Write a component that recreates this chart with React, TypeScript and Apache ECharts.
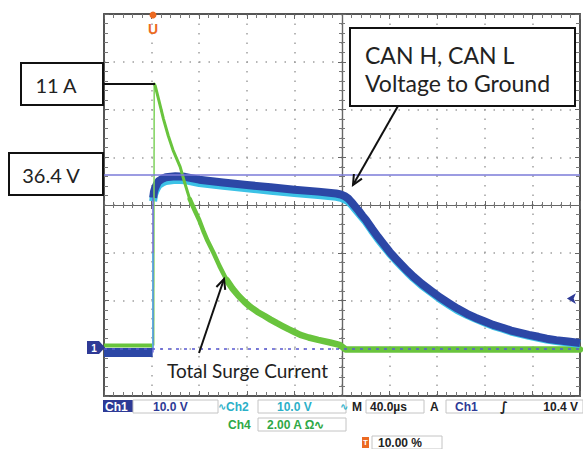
import React, { useEffect, useRef } from "react";
import * as echarts from "echarts";

// Oscilloscope capture: 40 µs/div, Ch1/Ch2 10 V/div, Ch4 2 A/div, trigger at 10 %
const timeMin = -40;
const timeMax = 360;
const timeStep = 40;
const voltMin = -10;
const voltMax = 70;
const voltStep = 10;
const ampMin = -2;
const ampMax = 14;
const ampStep = 2;

// Ch1 (CAN H) volts vs µs
const ch1Pre = [[-40, -0.9], [0.9, -0.9]];
const ch1Rise = [[1.1, -0.9], [1.2, 31.5]];
const ch1Main = [
  [1.3, 31.5], [2, 32.8], [3, 33.6], [4.5, 34.4], [6, 35.0], [9, 35.5], [12, 35.8], [20, 36.0],
  [28, 35.9], [40, 35.3], [60, 34.7], [80, 34.2], [100, 33.7], [120, 33.2], [140, 32.8],
  [155, 32.4], [159, 32.2], [162, 31.9], [165, 31.4], [168, 30.6], [171, 29.7], [174, 28.8],
  [177, 27.8], [180, 26.9], [185, 25.1], [190, 23.4], [195, 21.8], [200, 20.2], [205, 18.8],
  [210, 17.5], [215, 16.2], [220, 15.0], [227, 13.5], [235, 12.0], [242, 10.7], [250, 9.4],
  [257, 8.3], [265, 7.2], [272, 6.4], [280, 5.6], [287, 4.9], [295, 4.3], [302, 3.7],
  [310, 3.2], [317, 2.8], [325, 2.4], [332, 2.0], [340, 1.7], [350, 1.4], [360, 1.1],
];
// Ch2 (CAN L) volts vs µs
const ch2Rise = [[1.0, 0], [1.0, 20]];
const ch2Main = [
  [1.3, 30.8], [2, 32.1], [3, 32.8], [4.5, 33.6], [6, 34.2], [9, 34.7], [12, 35.0], [20, 35.3],
  [28, 35.2], [40, 34.6], [60, 34.0], [80, 33.5], [100, 33.0], [120, 32.5], [140, 32.1],
  [155, 31.7], [159, 31.5], [162, 31.2], [165, 30.8], [168, 30.1], [171, 29.2], [174, 28.3],
  [177, 27.4], [180, 26.5], [185, 24.7], [190, 23.0], [195, 21.4], [200, 19.9], [205, 18.5],
  [210, 17.2], [215, 15.9], [220, 14.7], [227, 13.2], [235, 11.7], [242, 10.4], [250, 9.1],
  [257, 8.0], [265, 7.0], [272, 6.2], [280, 5.4], [287, 4.7], [295, 4.1], [302, 3.5],
  [310, 3.0], [317, 2.6], [325, 2.2], [332, 1.8], [340, 1.5], [350, 1.2], [360, 0.9],
];
// Ch4 (total surge current) amps vs µs
const ch4Pre = [[-40, 0.12], [0.9, 0.12]];
const ch4Rise = [[1.8, 0.12], [2.2, 11.07]];
const ch4Peak = [[2.2, 11.07], [3, 11.0], [6, 10.4], [10, 9.6], [14, 8.9], [18, 8.3], [24, 7.6], [28, 6.9], [32, 6.25]];
const ch4Mid = [[32, 6.25], [36, 5.8], [40, 5.37], [44, 4.85], [47, 4.5], [52, 4.0], [57, 3.45], [63, 2.86]];
const ch4Tail = [
  [63, 2.86], [68, 2.5], [73, 2.2], [78, 1.95], [83, 1.73], [89, 1.52], [95, 1.35], [100, 1.2],
  [105, 1.06], [110, 0.93], [115, 0.8], [120, 0.68], [125, 0.56], [132, 0.45], [140, 0.35],
  [150, 0.24], [158, 0.14], [163, -0.05], [200, -0.05], [260, -0.05], [360, -0.05],
];
const peakCurrentLabel = "11 A";
const peakVoltageLabel = "36.4 V";
const peakVoltage = 36.4;
const triggerLevel = 10.4;
const triggerMarkTime = 349;

const BLUE = "#2c47a6";
const CYAN = "#3cc2e6";
const GREEN = "#69c43d";
const NAVY = "#2e3a96";
const RISE = "#6868d8";

const border = { color: "#555", width: 2 };
const dots = { color: "#a0a0a0", width: 1.5, type: [1.5, 8] as any };

function borderAxis(extra: any) {
  return {
    type: "value",
    axisLine: { show: true, onZero: false, lineStyle: border },
    axisTick: { show: true, inside: true, length: 5, lineStyle: { color: "#666", width: 1 } },
    minorTick: { show: true, splitNumber: 5, length: 4, lineStyle: { color: "#777", width: 1 } },
    axisLabel: { show: false },
    splitLine: { show: false },
    ...extra,
  };
}
function centerAxis(extra: any, inside: boolean) {
  return {
    type: "value",
    interval: 1,
    axisLine: { show: true, onZero: true, onZeroAxisIndex: 2, lineStyle: { color: "#666", width: 1.2 } },
    axisTick: { show: true, inside, length: 4, lineStyle: { color: "#666", width: 1 } },
    minorTick: { show: true, splitNumber: 5, length: 3, lineStyle: { color: "#777", width: 1 } },
    axisLabel: { show: false },
    splitLine: { show: false },
    ...extra,
  };
}

function line(data: any, color: string, width: number, yAxisIndex: number, extra: any = {}, cap = "butt") {
  return {
    type: "line",
    data,
    xAxisIndex: 0,
    yAxisIndex,
    symbol: "none",
    showSymbol: false,
    silent: true,
    smooth: false,
    clip: true,
    lineStyle: { color, width, cap, join: "round" },
    ...extra,
  };
}

function arrowHead(tip: number[], from: number[]) {
  const dx = tip[0] - from[0];
  const dy = tip[1] - from[1];
  const len = Math.hypot(dx, dy);
  const ux = dx / len, uy = dy / len;
  const a = (25 * Math.PI) / 180, L = 11;
  const c = Math.cos(a), s = Math.sin(a);
  const r1 = [ux * c - uy * s, ux * s + uy * c];
  const r2 = [ux * c + uy * s, -ux * s + uy * c];
  return [
    [tip[0] - L * r1[0], tip[1] - L * r1[1]],
    tip,
    [tip[0] - L * r2[0], tip[1] - L * r2[1]],
  ];
}

const annFont = "Lato";
const stFont = "bold 12px 'Liberation Sans'";

function stText(x: number, y: number, text: string, fill: string, align = "left", font = stFont) {
  return { type: "text", x, y, z: 100, style: { text, fill, font, align, verticalAlign: "middle" } };
}
function stBox(x: number, y: number, w: number, h: number) {
  return { type: "rect", z: 99, shape: { x, y, width: w, height: h }, style: { fill: "#fff", stroke: "#c4c4c4", lineWidth: 1 } };
}

const canArrowFrom = [398, 106];
const canArrowTip = [353, 185];
const surgeArrowFrom = [199, 353];
const surgeArrowTip = [224, 279];

const graphics: any[] = [
  // annotation boxes
  { type: "rect", z: 100, shape: { x: 21, y: 63, width: 82, height: 42 }, style: { fill: "#fff", stroke: "#111", lineWidth: 2 } },
  { type: "text", z: 101, x: 56, y: 85, style: { text: peakCurrentLabel, fill: "#222", font: `20px ${annFont}`, align: "center", verticalAlign: "middle" } },
  { type: "line", z: 100, shape: { x1: 103, y1: 84, x2: 155, y2: 84 }, style: { stroke: "#111", lineWidth: 2 } },
  { type: "rect", z: 100, shape: { x: 9, y: 153, width: 94, height: 42 }, style: { fill: "#fff", stroke: "#111", lineWidth: 2 } },
  { type: "text", z: 101, x: 51, y: 175, style: { text: peakVoltageLabel, fill: "#222", font: `20px ${annFont}`, align: "center", verticalAlign: "middle" } },
  { type: "rect", z: 100, shape: { x: 350, y: 28, width: 225, height: 78 }, style: { fill: "#fff", stroke: "#111", lineWidth: 2 } },
  { type: "text", z: 101, x: 365, y: 55, style: { text: "CAN H, CAN L", fill: "#222", font: `23px ${annFont}`, align: "left", verticalAlign: "middle" } },
  { type: "text", z: 101, x: 365, y: 83, style: { text: "Voltage to Ground", fill: "#222", font: `23px ${annFont}`, align: "left", verticalAlign: "middle" } },
  { type: "line", z: 100, shape: { x1: canArrowFrom[0], y1: canArrowFrom[1], x2: canArrowTip[0], y2: canArrowTip[1] }, style: { stroke: "#111", lineWidth: 2 } },
  { type: "polyline", z: 100, shape: { points: arrowHead(canArrowTip, canArrowFrom) }, style: { stroke: "#111", lineWidth: 2, fill: null } },
  { type: "text", z: 101, x: 167, y: 370, style: { text: "Total Surge Current", fill: "#222", font: `19px ${annFont}`, align: "left", verticalAlign: "middle" } },
  { type: "line", z: 100, shape: { x1: surgeArrowFrom[0], y1: surgeArrowFrom[1], x2: surgeArrowTip[0], y2: surgeArrowTip[1] }, style: { stroke: "#111", lineWidth: 2 } },
  { type: "polyline", z: 100, shape: { points: arrowHead(surgeArrowTip, surgeArrowFrom) }, style: { stroke: "#111", lineWidth: 2, fill: null } },

  // trigger position marker (top)
  { type: "circle", z: 100, shape: { cx: 153, cy: 15, r: 3.5 }, style: { fill: "#ec6a22" } },
  { type: "text", z: 100, x: 153, y: 29, style: { text: "U", fill: "#ec6a22", font: "bold 14px 'Liberation Sans'", align: "center", verticalAlign: "middle" } },

  // Ch1 ground marker (left)
  { type: "polygon", z: 100, shape: { points: [[87, 341], [99, 341], [105, 347.5], [99, 354], [87, 354]] }, style: { fill: NAVY } },
  { type: "text", z: 101, x: 94, y: 348, style: { text: "1", fill: "#fff", font: "bold 10px 'Liberation Sans'", align: "center", verticalAlign: "middle" } },

  // status bar row 1
  { type: "rect", z: 99, shape: { x: 103, y: 400, width: 30, height: 12 }, style: { fill: NAVY } },
  stText(105, 406.5, "Ch1", "#fff"),
  stBox(133, 400, 85, 13),
  stText(153, 406.5, "10.0 V", NAVY),
  stText(218, 406.5, "∿", "#2bb0c8", "left", "bold 10px 'DejaVu Sans'"),
  stText(226, 406.5, "Ch2", "#2bb0c8"),
  stBox(258, 400, 88, 13),
  stText(277, 406.5, "10.0 V", "#2bb0c8"),
  stText(340, 406.5, "∿", "#2bb0c8", "left", "bold 10px 'DejaVu Sans'"),
  stText(352, 406.5, "M", "#222"),
  stBox(366, 400, 58, 13),
  stText(370, 406.5, "40.0µs", "#222"),
  stText(430, 406.5, "A", "#222"),
  stBox(446, 400, 137, 13),
  stText(455, 406.5, "Ch1", NAVY),
  stText(500, 406.5, "∫", "#222", "left", "bold 13px 'DejaVu Sans'"),
  stText(578, 406.5, "10.4 V", "#222", "right"),
  // row 2
  stText(228, 424.5, "Ch4", "#2ea846"),
  stBox(258, 418, 88, 13),
  stText(267, 424.5, "2.00 A Ω∿", "#2ea846"),
  // row 3
  { type: "rect", z: 99, shape: { x: 362, y: 437, width: 7, height: 11 }, style: { fill: "#ec6a22" } },
  stText(365.5, 442.5, "T", "#fff", "center", "bold 8px 'Liberation Sans'"),
  stBox(372, 436, 70, 13),
  stText(378, 442.5, "10.00 %", "#222"),
];

const option: any = {
  animation: false,
  backgroundColor: "#fff",
  grid: { left: 104, top: 14, width: 476, height: 382, containLabel: false, outerBoundsMode: "none" },
  xAxis: [
    borderAxis({ min: timeMin, max: timeMax, interval: timeStep, position: "bottom", splitLine: { show: true, lineStyle: dots } }),
    borderAxis({ min: timeMin, max: timeMax, interval: timeStep, position: "top" }),
    { type: "value", min: -5, max: 5, show: false },
    centerAxis({ min: -5, max: 5, position: "bottom" }, true),
    centerAxis({ min: -5, max: 5, position: "bottom" }, false),
  ],
  yAxis: [
    borderAxis({ min: voltMin, max: voltMax, interval: voltStep, position: "left", splitLine: { show: true, lineStyle: dots } }),
    { type: "value", min: ampMin, max: ampMax, interval: ampStep, show: false },
    { type: "value", min: -4, max: 4, show: false },
    borderAxis({ min: voltMin, max: voltMax, interval: voltStep, position: "right" }),
    centerAxis({ min: -4, max: 4, position: "left" }, true),
    centerAxis({ min: -4, max: 4, position: "left" }, false),
  ],
  series: [
    line(ch1Pre, BLUE, 9, 0, {
      markLine: {
        silent: true,
        symbol: "none",
        label: { show: false },
        data: [
          { yAxis: peakVoltage, lineStyle: { color: "#7b7bd8", width: 1.5, type: "solid" } },
          { yAxis: 0, lineStyle: { color: "#5a5ad2", width: 1.5, type: [3, 5] } },
        ],
      },
    }),
    line(ch4Pre, GREEN, 4, 1),
    line(ch4Tail, GREEN, 6.5, 1, {}, "round"),
    line(ch2Main, CYAN, 8, 0),
    line(ch1Main, BLUE, 8, 0, {
      markPoint: {
        silent: true,
        symbol: "arrow",
        symbolSize: [8, 9],
        symbolRotate: 90,
        label: { show: false },
        itemStyle: { color: NAVY },
        data: [{ coord: [triggerMarkTime, triggerLevel] }],
      },
    }),
    line(ch4Rise, "#7fd35c", 1.5, 1),
    line(ch4Mid, GREEN, 4.5, 1, {}, "round"),
    line(ch4Peak, GREEN, 3, 1, {}, "round"),
    line(ch1Rise, RISE, 1.5, 0),
    line(ch2Rise, "#56b8e0", 1.2, 0),
  ],
  graphic: { elements: graphics },
};

export default function App() {
  const ref = useRef<HTMLDivElement>(null);
  useEffect(() => {
    const chart = echarts.init(ref.current as HTMLDivElement, null, { renderer: "svg" });
    chart.setOption(option);
    return () => chart.dispose();
  }, []);
  return (
    <div
      ref={ref}
      style={{ position: "fixed", left: 0, top: 0, width: 583, height: 449, background: "#fff" }}
    />
  );
}
